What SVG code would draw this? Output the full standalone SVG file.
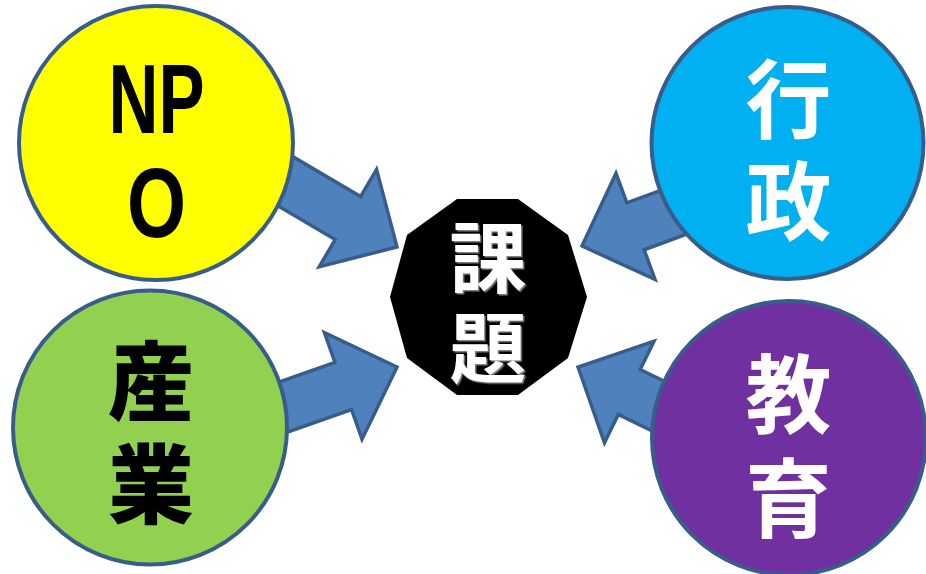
<svg xmlns="http://www.w3.org/2000/svg" width="926" height="574" viewBox="0 0 926 574">
<defs>
<style>
.arrow{fill:#4F81BD;stroke:#385D8A;stroke-width:3.5;stroke-linejoin:miter}
.node{stroke:#385D8A;stroke-width:4}
.t{font-family:"Noto Sans CJK JP","Noto Sans CJK SC",sans-serif;font-weight:700;text-anchor:middle}
.lat{font-family:"Liberation Sans",Arial,sans-serif;font-weight:700;font-size:98px;text-anchor:middle;fill:#000}
</style>
<filter id="shadow" x="-10%" y="-10%" width="130%" height="130%">
<feDropShadow dx="1.5" dy="1.5" stdDeviation="0.4" flood-color="#808080" flood-opacity="1"/>
</filter>
<path id="arr" d="M0,0 L-57,-56.5 L-57,-25 L-170,-25 L-170,25 L-57,25 L-57,56.5 Z"/>
</defs>
<rect width="926" height="574" fill="#fff"/>
<g id="connectors">
<use href="#arr" class="arrow" transform="translate(397,247) rotate(30.5)"/>
<use href="#arr" class="arrow" transform="translate(397,367) rotate(-19.4)"/>
<use href="#arr" class="arrow" transform="translate(582,246) rotate(159.8)"/>
<use href="#arr" class="arrow" transform="translate(578,367) rotate(206)"/>
</g>
<g id="npo">
<circle class="node" cx="156" cy="143" r="137" fill="#FFFF00"/>
<text class="lat" x="156.5" y="133" textLength="96" lengthAdjust="spacingAndGlyphs">NP</text>
<text class="lat" x="156.5" y="237" textLength="59" lengthAdjust="spacingAndGlyphs">O</text>
</g>
<g id="sangyo">
<circle class="node" cx="150" cy="427.5" r="137" fill="#92D050"/>
<text class="t" x="151" y="414" font-size="86" fill="#000" style="font-weight:900">産</text>
<text class="t" x="151" y="517" font-size="86" fill="#000" style="font-weight:900">業</text>
</g>
<g id="gyosei">
<circle class="node" cx="787.5" cy="143" r="136" fill="#00B0F0"/>
<text class="t" x="788.5" y="132" font-size="86" fill="#fff">行</text>
<text class="t" x="788.5" y="234" font-size="86" fill="#fff">政</text>
</g>
<g id="kyoiku">
<circle class="node" cx="789" cy="438" r="137" fill="#7030A0"/>
<text class="t" x="788.5" y="427" font-size="86" fill="#fff">教</text>
<text class="t" x="788.5" y="531" font-size="86" fill="#fff">育</text>
</g>
<g id="kadai">
<polygon points="457,199 518,199 568,235 587,297 568,358 518,395 457,395 407,358 390,297 407,235" fill="#000"/>
<g filter="url(#shadow)">
<text class="t" x="488" y="287" font-size="77" fill="#fff">課</text>
<text class="t" x="488" y="377" font-size="77" fill="#fff">題</text>
</g>
</g>
</svg>
